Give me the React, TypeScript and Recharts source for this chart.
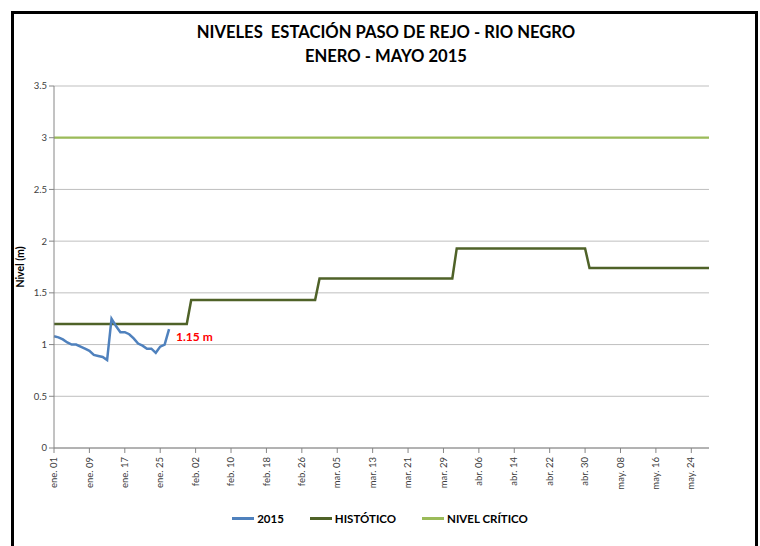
import React from 'react';
import { LineChart, Line, XAxis, YAxis, CartesianGrid, Label, LabelList } from 'recharts';

const MONTHS = ['ene.', 'feb.', 'mar.', 'abr.', 'may.'];
const MONTH_DAYS = [31, 29, 31, 30, 28];
const HISTORICO = [1.2, 1.43, 1.64, 1.93, 1.74];
const NIVEL_CRITICO = 3;
const NIVEL_2015 = [
  1.08, 1.07, 1.05, 1.02, 1.0, 1.0, 0.98, 0.96, 0.94, 0.9, 0.89, 0.88, 0.85, 1.25,
  1.18, 1.12, 1.12, 1.1, 1.06, 1.01, 0.99, 0.96, 0.96, 0.92, 0.98, 1.0, 1.15,
];
const Y_TICKS = [0, 0.5, 1, 1.5, 2, 2.5, 3, 3.5];

const FONT = 'Lato, "Open Sans", sans-serif';

const data: any[] = [];
MONTHS.forEach((m, mi) => {
  for (let d = 1; d <= MONTH_DAYS[mi]; d++) {
    const i = data.length;
    data.push({
      label: `${m} ${String(d).padStart(2, '0')}`,
      nivel: i < NIVEL_2015.length ? NIVEL_2015[i] : null,
      historico: HISTORICO[mi],
      critico: NIVEL_CRITICO,
    });
  }
});

const DateTick = (props: any) => {
  const { x, y, payload } = props;
  return (
    <g transform={`translate(${x},${y})`}>
      <text
        transform="rotate(-90)"
        x={-2}
        y={0}
        dy="0.33em"
        textAnchor="end"
        fontSize={9.5}
        fontFamily={FONT}
        fill="#404040"
      >
        {payload.value}
      </text>
    </g>
  );
};

const LastLabel = (props: any) => {
  const { x, y, index } = props;
  if (index !== NIVEL_2015.length - 1) return null;
  return (
    <text x={x + 7} y={y + 12} fontSize={12} fontWeight="bold" fontFamily={FONT} fill="#ff0000">
      {`${NIVEL_2015[index]} m`}
    </text>
  );
};

const legendItems = [
  { name: '2015', color: '#4f81bd' },
  { name: 'HISTÓTICO', color: '#4f6228' },
  { name: 'NIVEL CRÍTICO', color: '#9bbb59' },
];

export default function App() {
  return (
    <div style={{ position: 'absolute', left: 0, top: 0, width: 760, height: 546, background: '#fff', overflow: 'hidden' }}>
      <div
        style={{
          position: 'absolute',
          left: 11,
          top: 11,
          width: 741,
          height: 560,
          borderLeft: '3px solid #000',
          borderTop: '3px solid #000',
          borderRight: '3px solid #000',
        }}
      />
      <div
        style={{
          position: 'absolute',
          top: 20,
          left: 0,
          width: 772,
          textAlign: 'center',
          fontFamily: FONT,
          fontWeight: 'bold',
          fontSize: 16.6,
          lineHeight: '24px',
          color: '#000',
        }}
      >
        <div>NIVELES&nbsp; ESTACIÓN PASO DE REJO - RIO NEGRO</div>
        <div>ENERO - MAYO 2015</div>
      </div>
      <div style={{ position: 'absolute', left: 0, top: 0 }}>
        <LineChart width={760} height={546} data={data} margin={{ top: 86, right: 51, bottom: 38, left: 14 }}>
          <CartesianGrid vertical={false} stroke="#bfbfbf" />
          <XAxis
            dataKey="label"
            interval={7}
            tick={<DateTick />}
            tickSize={5}
            height={60}
            stroke="#868686"
            tickLine={{ stroke: '#868686' }}
          />
          <YAxis
            domain={[0, 3.5]}
            ticks={Y_TICKS}
            width={40}
            tickSize={5}
            tick={{ fontSize: 9.5, fontFamily: FONT, fill: '#404040' }}
            stroke="#868686"
          >
            <Label
              value="Nivel (m)"
              angle={-90}
              position="insideLeft"
              offset={6}
              style={{ fontSize: 10.5, fontWeight: 'bold', fontFamily: FONT, fill: '#000', textAnchor: 'middle' }}
            />
          </YAxis>
          <Line type="linear" dataKey="critico" stroke="#9bbb59" strokeWidth={2.25} dot={false} isAnimationActive={false} />
          <Line type="linear" dataKey="historico" stroke="#4f6228" strokeWidth={2.5} dot={false} isAnimationActive={false} />
          <Line type="linear" dataKey="nivel" stroke="#4f81bd" strokeWidth={2.5} dot={false} isAnimationActive={false} connectNulls={false}>
            <LabelList dataKey="nivel" content={<LastLabel />} />
          </Line>
        </LineChart>
      </div>
      <div
        style={{
          position: 'absolute',
          top: 512,
          left: 4,
          width: 752,
          display: 'flex',
          justifyContent: 'center',
          gap: 26,
          fontFamily: FONT,
          fontWeight: 'bold',
          fontSize: 11.5,
          color: '#000',
        }}
      >
        {legendItems.map((it) => (
          <div key={it.name} style={{ display: 'flex', alignItems: 'center' }}>
            <span style={{ display: 'inline-block', width: 22, height: 3, background: it.color, marginRight: 3 }} />
            <span>{it.name}</span>
          </div>
        ))}
      </div>
    </div>
  );
}
